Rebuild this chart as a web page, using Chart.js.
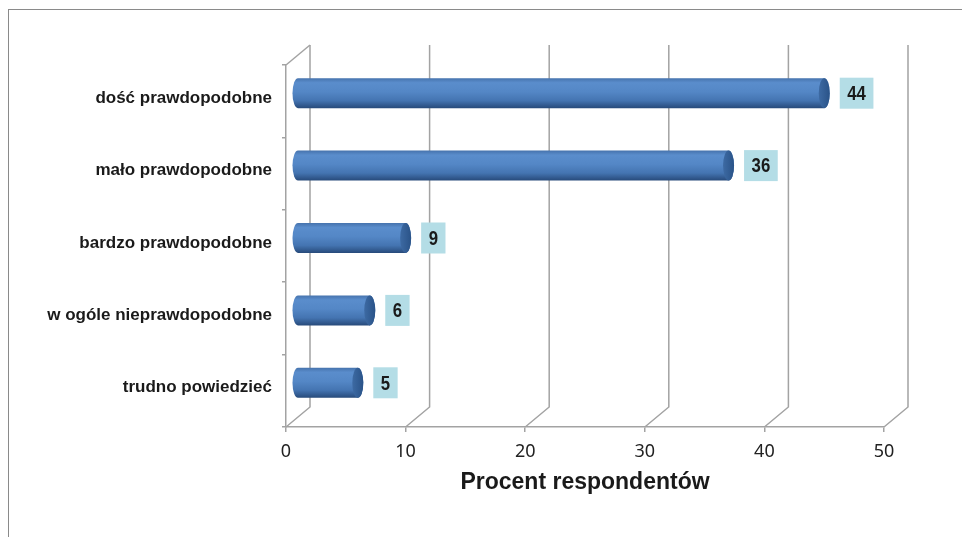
<!DOCTYPE html>
<html>
<head>
<meta charset="utf-8">
<script src="https://cdn.jsdelivr.net/npm/chart.js@4.4.1/dist/chart.umd.min.js"></script>
<style>
  body { margin: 0; background: #fff; overflow: hidden; }
  #frame { position: absolute; left: 8px; top: 9px; width: 1000px; height: 600px; border: 1px solid #8a8a8a; }
  #c { position: absolute; left: 0; top: 0; }
</style>
</head>
<body>
<div id="frame"></div>
<canvas id="c" width="962" height="537"></canvas>
<script>
const categories = ['dość prawdopodobne', 'mało prawdopodobne', 'bardzo prawdopodobne', 'w ogóle nieprawdopodobne', 'trudno powiedzieć'];
const values = [44, 36, 9, 6, 5];
const xTicks = [0, 10, 20, 30, 40, 50];
const axisTitle = 'Procent respondentów';

// depth of the fake 3D box
const DX = 24, DY = -20;
const GRID = '#a3a3a3';

const wallPlugin = {
    id: 'wall',
    beforeDatasetsDraw(chart) {
        const { ctx, chartArea: a, scales: { x } } = chart;
        ctx.save();
        ctx.strokeStyle = GRID;
        ctx.lineWidth = 1.5;
        xTicks.forEach(t => {
            const px = x.getPixelForValue(t);
            ctx.beginPath();
            ctx.moveTo(px, a.bottom);
            ctx.lineTo(px + DX, a.bottom + DY);
            ctx.lineTo(px + DX, a.top + DY);
            ctx.stroke();
        });
        // top edge of the side wall
        const p0 = x.getPixelForValue(0);
        ctx.beginPath();
        ctx.moveTo(p0, a.top);
        ctx.lineTo(p0 + DX, a.top + DY);
        ctx.stroke();
        ctx.restore();
    }
};

const cylinderPlugin = {
    id: 'cylinders',
    afterDatasetsDraw(chart) {
        const { ctx, scales: { x, y } } = chart;
        const h = 30, rx = 5.5, ry = h / 2;
        ctx.save();
        values.forEach((v, i) => {
            const cy = y.getPixelForValue(i) - 8;
            const x0 = x.getPixelForValue(0) + DX / 2;
            const x1 = x.getPixelForValue(v) + DX / 2;
            const top = cy - ry;

            const g = ctx.createLinearGradient(0, top, 0, top + h);
            g.addColorStop(0, '#4673ad');
            g.addColorStop(0.15, '#5a8dcc');
            g.addColorStop(0.45, '#5487c6');
            g.addColorStop(0.75, '#4474b1');
            g.addColorStop(1, '#274a7a');

            ctx.beginPath();
            ctx.moveTo(x0, top);
            ctx.lineTo(x1, top);
            ctx.ellipse(x1, cy, rx, ry, 0, -Math.PI / 2, Math.PI / 2);
            ctx.lineTo(x0, top + h);
            ctx.ellipse(x0, cy, rx, ry, 0, Math.PI / 2, Math.PI * 1.5);
            ctx.closePath();
            ctx.fillStyle = g;
            ctx.fill();

            // end cap
            const gc = ctx.createLinearGradient(x1 - rx, 0, x1 + rx, 0);
            gc.addColorStop(0, '#3d6aa3');
            gc.addColorStop(1, '#2a5388');
            ctx.beginPath();
            ctx.ellipse(x1, cy, rx, ry, 0, 0, Math.PI * 2);
            ctx.fillStyle = gc;
            ctx.fill();

            // value box
            const label = String(v);
            ctx.font = 'bold 21px "Liberation Sans", Arial, sans-serif';
            const tw = ctx.measureText(label).width * 0.8;
            const bw = tw + 15, bh = 31;
            const bx = x1 + rx + 10;
            ctx.fillStyle = '#b4dde6';
            ctx.fillRect(bx, cy - bh / 2, bw, bh);
            ctx.save();
            ctx.translate(bx + bw / 2, cy + 1);
            ctx.scale(0.8, 1);
            ctx.fillStyle = '#1a1a1a';
            ctx.textAlign = 'center';
            ctx.textBaseline = 'middle';
            ctx.fillText(label, 0, 0);
            ctx.restore();
        });
        ctx.restore();
    }
};

new Chart(document.getElementById('c'), {
    type: 'bar',
    data: {
        labels: categories,
        datasets: [{
            data: values,
            backgroundColor: 'rgba(0,0,0,0)',
            borderWidth: 0
        }]
    },
    options: {
        indexAxis: 'y',
        responsive: false,
        animation: false,
        events: [],
        layout: { padding: { top: 65, right: 78, bottom: 37, left: 0 } },
        plugins: { legend: { display: false }, tooltip: { enabled: false } },
        scales: {
            x: {
                min: 0,
                max: 50,
                afterFit: s => { s.height = 73; },
                afterBuildTicks: s => { s.ticks = xTicks.map(v => ({ value: v })); },
                grid: { drawOnChartArea: false, drawTicks: true, tickLength: 5, color: GRID, lineWidth: 1.5 },
                border: { display: true, color: GRID, width: 1.5 },
                ticks: { padding: 9, color: '#222', font: { family: '"Noto Sans", sans-serif', size: 18 } },
                title: {
                    display: true,
                    text: axisTitle,
                    color: '#1a1a1a',
                    font: { family: '"Liberation Sans", Arial, sans-serif', size: 23, weight: 'bold' }
                }
            },
            y: {
                afterFit: s => { s.width = 286; },
                grid: { drawOnChartArea: false, drawTicks: true, tickLength: 4, color: GRID, lineWidth: 1.5 },
                border: { display: true, color: GRID, width: 1.5 },
                ticks: {
                    padding: 10,
                    labelOffset: -3,
                    color: '#1a1a1a',
                    font: { family: '"Liberation Sans", Arial, sans-serif', size: 17, weight: 'bold' }
                }
            }
        }
    },
    plugins: [wallPlugin, cylinderPlugin]
});
</script>
</body>
</html>
